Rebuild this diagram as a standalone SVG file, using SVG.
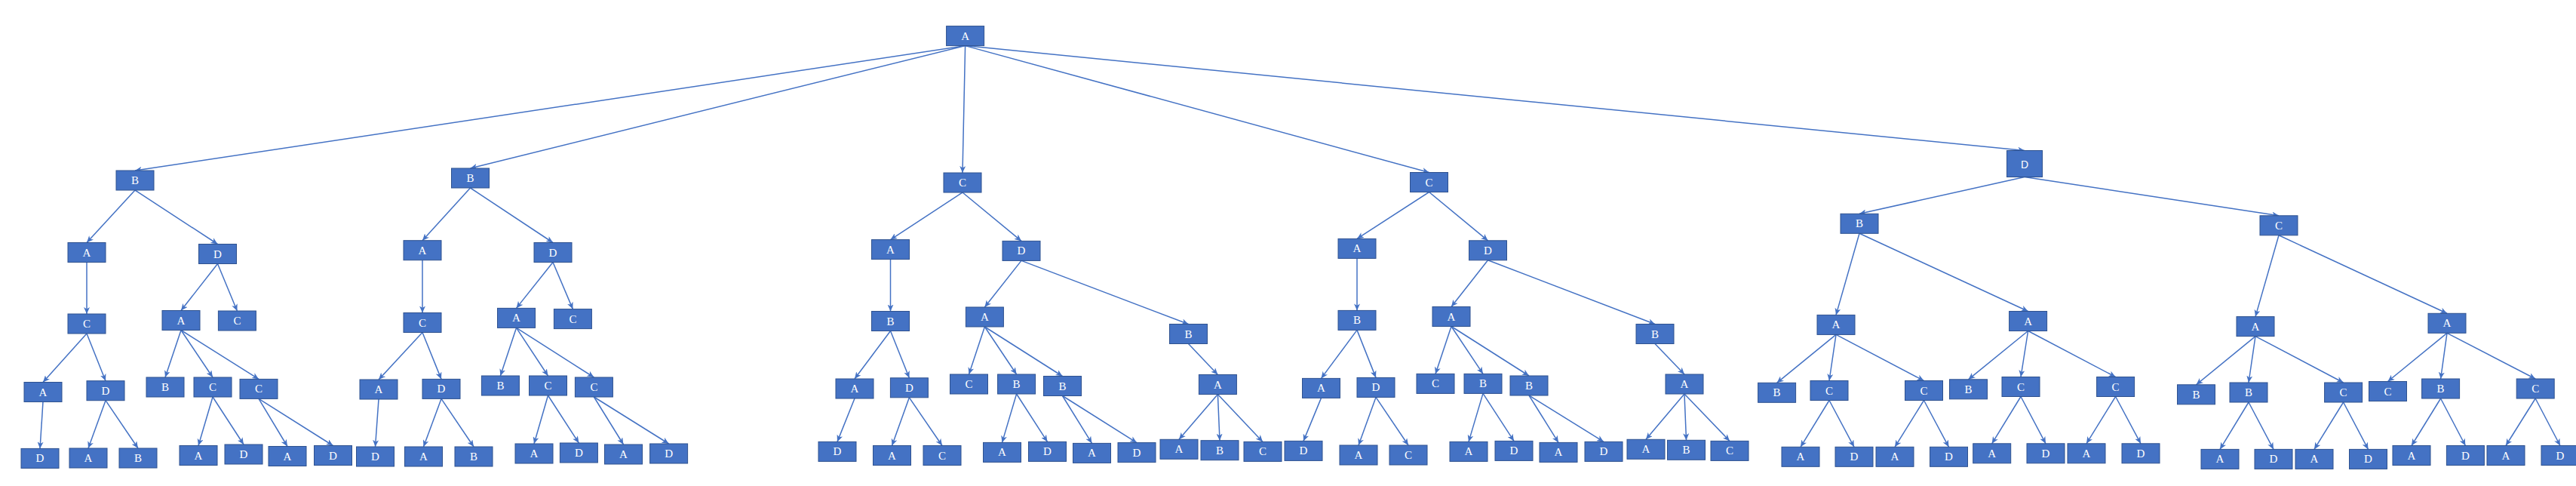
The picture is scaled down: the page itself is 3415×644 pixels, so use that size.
<svg xmlns="http://www.w3.org/2000/svg" width="3415" height="644" viewBox="0 0 3415 644">
<style>
.e line{stroke:#4472C4;stroke-width:1.5;marker-end:url(#ah)}
rect.b{fill:#4472C4;stroke:#2F528F;stroke-width:1}
text{font-family:"Liberation Serif","Times New Roman",serif;font-size:15px;fill:#FFFFFF;text-anchor:middle}
</style>
<defs>
<marker id="ah" markerUnits="userSpaceOnUse" markerWidth="9" markerHeight="8" refX="9" refY="4" orient="auto">
<path d="M0,0 L9,4 L0,8 L2.5,4 z" fill="#4472C4"/>
</marker>
</defs>
<rect width="3415" height="644" fill="#FFFFFF"/>
<g class="e" id="connectors">
<line x1="1279.6" y1="60.6" x2="179" y2="226"/>
<line x1="1279.6" y1="60.6" x2="623.5" y2="223"/>
<line x1="1279.6" y1="60.6" x2="1276" y2="229"/>
<line x1="1279.6" y1="60.6" x2="1894.5" y2="228.5"/>
<line x1="1279.6" y1="60.6" x2="2684" y2="199.5"/>
<line x1="179" y1="252" x2="115" y2="321.5"/>
<line x1="179" y1="252" x2="288.5" y2="323.5"/>
<line x1="115" y1="347.5" x2="115" y2="416"/>
<line x1="115" y1="442" x2="57" y2="506.5"/>
<line x1="115" y1="442" x2="140" y2="504.7"/>
<line x1="57" y1="532.5" x2="53" y2="594.4"/>
<line x1="140" y1="530.7" x2="117" y2="594"/>
<line x1="140" y1="530.7" x2="183" y2="594"/>
<line x1="288.5" y1="349.5" x2="240" y2="411.5"/>
<line x1="288.5" y1="349.5" x2="314.4" y2="412"/>
<line x1="240" y1="437.5" x2="219" y2="500"/>
<line x1="240" y1="437.5" x2="282" y2="500"/>
<line x1="240" y1="437.5" x2="343" y2="502.4"/>
<line x1="282" y1="526" x2="263" y2="590.5"/>
<line x1="282" y1="526" x2="323" y2="589"/>
<line x1="343" y1="528.4" x2="381" y2="591.5"/>
<line x1="343" y1="528.4" x2="441.5" y2="590.5"/>
<line x1="623.5" y1="249" x2="560" y2="318.7"/>
<line x1="623.5" y1="249" x2="733" y2="321.5"/>
<line x1="560" y1="344.7" x2="560" y2="414.5"/>
<line x1="560" y1="440.5" x2="502" y2="503"/>
<line x1="560" y1="440.5" x2="585" y2="502.4"/>
<line x1="502" y1="529" x2="497.5" y2="592"/>
<line x1="585" y1="528.4" x2="561.5" y2="592"/>
<line x1="585" y1="528.4" x2="628" y2="592"/>
<line x1="733" y1="347.5" x2="684.5" y2="408.4"/>
<line x1="733" y1="347.5" x2="759.4" y2="409.6"/>
<line x1="684.5" y1="434.4" x2="663.4" y2="498"/>
<line x1="684.5" y1="434.4" x2="726.5" y2="498"/>
<line x1="684.5" y1="434.4" x2="787.4" y2="500"/>
<line x1="726.5" y1="524" x2="708" y2="588"/>
<line x1="726.5" y1="524" x2="767.4" y2="587"/>
<line x1="787.4" y1="526" x2="826.5" y2="589"/>
<line x1="787.4" y1="526" x2="886.6" y2="588"/>
<line x1="1276" y1="255" x2="1180.5" y2="317.6"/>
<line x1="1276" y1="255" x2="1354" y2="319.4"/>
<line x1="1180.5" y1="343.6" x2="1180.5" y2="412.5"/>
<line x1="1180.5" y1="438.5" x2="1133" y2="502"/>
<line x1="1180.5" y1="438.5" x2="1205.4" y2="500.8"/>
<line x1="1133" y1="528" x2="1110" y2="585.4"/>
<line x1="1205.4" y1="526.8" x2="1182.5" y2="590.5"/>
<line x1="1205.4" y1="526.8" x2="1249" y2="590.5"/>
<line x1="1354" y1="345.4" x2="1305.4" y2="407"/>
<line x1="1354" y1="345.4" x2="1575.5" y2="429.5"/>
<line x1="1305.4" y1="433" x2="1284.5" y2="496"/>
<line x1="1305.4" y1="433" x2="1347.6" y2="496"/>
<line x1="1305.4" y1="433" x2="1408.5" y2="498.5"/>
<line x1="1347.6" y1="522" x2="1328.5" y2="586.4"/>
<line x1="1347.6" y1="522" x2="1388.5" y2="585.4"/>
<line x1="1408.5" y1="524.5" x2="1447.5" y2="587.4"/>
<line x1="1408.5" y1="524.5" x2="1507" y2="586.6"/>
<line x1="1575.5" y1="455.5" x2="1614.4" y2="496.5"/>
<line x1="1614.4" y1="522.5" x2="1563" y2="582.3"/>
<line x1="1614.4" y1="522.5" x2="1617" y2="583.7"/>
<line x1="1614.4" y1="522.5" x2="1674" y2="585.4"/>
<line x1="1894.5" y1="254.5" x2="1799" y2="316.4"/>
<line x1="1894.5" y1="254.5" x2="1972.5" y2="318.8"/>
<line x1="1799" y1="342.4" x2="1799" y2="411.4"/>
<line x1="1799" y1="437.4" x2="1751.5" y2="501.4"/>
<line x1="1799" y1="437.4" x2="1824" y2="500.4"/>
<line x1="1751.5" y1="527.4" x2="1728" y2="584.4"/>
<line x1="1824" y1="526.4" x2="1801" y2="590"/>
<line x1="1824" y1="526.4" x2="1867" y2="590"/>
<line x1="1972.5" y1="344.8" x2="1924" y2="406.5"/>
<line x1="1972.5" y1="344.8" x2="2194" y2="429.5"/>
<line x1="1924" y1="432.5" x2="1903" y2="495.4"/>
<line x1="1924" y1="432.5" x2="1966" y2="495.4"/>
<line x1="1924" y1="432.5" x2="2027" y2="498"/>
<line x1="1966" y1="521.4" x2="1947" y2="585.4"/>
<line x1="1966" y1="521.4" x2="2007" y2="584.4"/>
<line x1="2027" y1="524" x2="2066" y2="586.4"/>
<line x1="2027" y1="524" x2="2126" y2="585.4"/>
<line x1="2194" y1="455.5" x2="2233" y2="496"/>
<line x1="2233" y1="522" x2="2182" y2="582.3"/>
<line x1="2233" y1="522" x2="2235.5" y2="583.3"/>
<line x1="2233" y1="522" x2="2293" y2="584.4"/>
<line x1="2684" y1="234.5" x2="2465" y2="283.3"/>
<line x1="2684" y1="234.5" x2="3021" y2="285.8"/>
<line x1="2465" y1="309.3" x2="2434" y2="417.4"/>
<line x1="2465" y1="309.3" x2="2688.6" y2="412.5"/>
<line x1="2434" y1="443.4" x2="2355.6" y2="507.3"/>
<line x1="2434" y1="443.4" x2="2425" y2="504.5"/>
<line x1="2434" y1="443.4" x2="2550.5" y2="504.5"/>
<line x1="2425" y1="530.5" x2="2387" y2="592.3"/>
<line x1="2425" y1="530.5" x2="2458" y2="592.3"/>
<line x1="2550.5" y1="530.5" x2="2512" y2="592.3"/>
<line x1="2550.5" y1="530.5" x2="2583.5" y2="592.3"/>
<line x1="2688.6" y1="438.5" x2="2609.5" y2="502.8"/>
<line x1="2688.6" y1="438.5" x2="2679" y2="499.5"/>
<line x1="2688.6" y1="438.5" x2="2804.6" y2="499.5"/>
<line x1="2679" y1="525.5" x2="2640.7" y2="587.8"/>
<line x1="2679" y1="525.5" x2="2712" y2="587.8"/>
<line x1="2804.6" y1="525.5" x2="2766" y2="587.8"/>
<line x1="2804.6" y1="525.5" x2="2838" y2="587.8"/>
<line x1="3021" y1="311.8" x2="2990" y2="419.6"/>
<line x1="3021" y1="311.8" x2="3244" y2="415.3"/>
<line x1="2990" y1="445.6" x2="2911.5" y2="509.8"/>
<line x1="2990" y1="445.6" x2="2981" y2="507"/>
<line x1="2990" y1="445.6" x2="3106.6" y2="507"/>
<line x1="2981" y1="533" x2="2943" y2="595.4"/>
<line x1="2981" y1="533" x2="3014" y2="595.4"/>
<line x1="3106.6" y1="533" x2="3068" y2="595.4"/>
<line x1="3106.6" y1="533" x2="3139.5" y2="595.4"/>
<line x1="3244" y1="441.3" x2="3165.5" y2="505.5"/>
<line x1="3244" y1="441.3" x2="3235.6" y2="502"/>
<line x1="3244" y1="441.3" x2="3361.2" y2="502"/>
<line x1="3235.6" y1="528" x2="3197" y2="590.5"/>
<line x1="3235.6" y1="528" x2="3268.4" y2="590.5"/>
<line x1="3361.2" y1="528" x2="3322" y2="590.5"/>
<line x1="3361.2" y1="528" x2="3394" y2="590.5"/>
</g>
<g id="n0" transform="translate(1254.6,34.6)"><rect class="b" width="50" height="26"/><text x="25" y="18">A</text></g>
<g id="n1" transform="translate(154,226)"><rect class="b" width="50" height="26"/><text x="25" y="18">B</text></g>
<g id="n2" transform="translate(598.5,223)"><rect class="b" width="50" height="26"/><text x="25" y="18">B</text></g>
<g id="n3" transform="translate(1251,229)"><rect class="b" width="50" height="26"/><text x="25" y="18">C</text></g>
<g id="n4" transform="translate(1869.5,228.5)"><rect class="b" width="50" height="26"/><text x="25" y="18">C</text></g>
<g id="n5" transform="translate(2660.5,199.5)"><rect class="b" width="47" height="35"/><text x="23.5" y="23" style="font-family:'Liberation Sans',Arial,sans-serif;font-size:14px">D</text></g>
<g id="n1a" transform="translate(90,321.5)"><rect class="b" width="50" height="26"/><text x="25" y="18">A</text></g>
<g id="n1b" transform="translate(263.5,323.5)"><rect class="b" width="50" height="26"/><text x="25" y="18">D</text></g>
<g id="n1a1" transform="translate(90,416)"><rect class="b" width="50" height="26"/><text x="25" y="18">C</text></g>
<g id="n1a1a" transform="translate(32,506.5)"><rect class="b" width="50" height="26"/><text x="25" y="18">A</text></g>
<g id="n1a1b" transform="translate(115,504.7)"><rect class="b" width="50" height="26"/><text x="25" y="18">D</text></g>
<g id="n1a1a1" transform="translate(28,594.4)"><rect class="b" width="50" height="26"/><text x="25" y="18">D</text></g>
<g id="n1a1b1" transform="translate(92,594)"><rect class="b" width="50" height="26"/><text x="25" y="18">A</text></g>
<g id="n1a1b2" transform="translate(158,594)"><rect class="b" width="50" height="26"/><text x="25" y="18">B</text></g>
<g id="n1b1" transform="translate(215,411.5)"><rect class="b" width="50" height="26"/><text x="25" y="18">A</text></g>
<g id="n1b2" transform="translate(289.4,412)"><rect class="b" width="50" height="26"/><text x="25" y="18">C</text></g>
<g id="n1b1a" transform="translate(194,500)"><rect class="b" width="50" height="26"/><text x="25" y="18">B</text></g>
<g id="n1b1b" transform="translate(257,500)"><rect class="b" width="50" height="26"/><text x="25" y="18">C</text></g>
<g id="n1b1c" transform="translate(318,502.4)"><rect class="b" width="50" height="26"/><text x="25" y="18">C</text></g>
<g id="n1b1b1" transform="translate(238,590.5)"><rect class="b" width="50" height="26"/><text x="25" y="18">A</text></g>
<g id="n1b1b2" transform="translate(298,589)"><rect class="b" width="50" height="26"/><text x="25" y="18">D</text></g>
<g id="n1b1c1" transform="translate(356,591.5)"><rect class="b" width="50" height="26"/><text x="25" y="18">A</text></g>
<g id="n1b1c2" transform="translate(416.5,590.5)"><rect class="b" width="50" height="26"/><text x="25" y="18">D</text></g>
<g id="n2a" transform="translate(535,318.7)"><rect class="b" width="50" height="26"/><text x="25" y="18">A</text></g>
<g id="n2b" transform="translate(708,321.5)"><rect class="b" width="50" height="26"/><text x="25" y="18">D</text></g>
<g id="n2a1" transform="translate(535,414.5)"><rect class="b" width="50" height="26"/><text x="25" y="18">C</text></g>
<g id="n2a1a" transform="translate(477,503)"><rect class="b" width="50" height="26"/><text x="25" y="18">A</text></g>
<g id="n2a1b" transform="translate(560,502.4)"><rect class="b" width="50" height="26"/><text x="25" y="18">D</text></g>
<g id="n2a1a1" transform="translate(472.5,592)"><rect class="b" width="50" height="26"/><text x="25" y="18">D</text></g>
<g id="n2a1b1" transform="translate(536.5,592)"><rect class="b" width="50" height="26"/><text x="25" y="18">A</text></g>
<g id="n2a1b2" transform="translate(603,592)"><rect class="b" width="50" height="26"/><text x="25" y="18">B</text></g>
<g id="n2b1" transform="translate(659.5,408.4)"><rect class="b" width="50" height="26"/><text x="25" y="18">A</text></g>
<g id="n2b2" transform="translate(734.4,409.6)"><rect class="b" width="50" height="26"/><text x="25" y="18">C</text></g>
<g id="n2b1a" transform="translate(638.4,498)"><rect class="b" width="50" height="26"/><text x="25" y="18">B</text></g>
<g id="n2b1b" transform="translate(701.5,498)"><rect class="b" width="50" height="26"/><text x="25" y="18">C</text></g>
<g id="n2b1c" transform="translate(762.4,500)"><rect class="b" width="50" height="26"/><text x="25" y="18">C</text></g>
<g id="n2b1b1" transform="translate(683,588)"><rect class="b" width="50" height="26"/><text x="25" y="18">A</text></g>
<g id="n2b1b2" transform="translate(742.4,587)"><rect class="b" width="50" height="26"/><text x="25" y="18">D</text></g>
<g id="n2b1c1" transform="translate(801.5,589)"><rect class="b" width="50" height="26"/><text x="25" y="18">A</text></g>
<g id="n2b1c2" transform="translate(861.6,588)"><rect class="b" width="50" height="26"/><text x="25" y="18">D</text></g>
<g id="n3a" transform="translate(1155.5,317.6)"><rect class="b" width="50" height="26"/><text x="25" y="18">A</text></g>
<g id="n3b" transform="translate(1329,319.4)"><rect class="b" width="50" height="26"/><text x="25" y="18">D</text></g>
<g id="n3a1" transform="translate(1155.5,412.5)"><rect class="b" width="50" height="26"/><text x="25" y="18">B</text></g>
<g id="n3a1a" transform="translate(1108,502)"><rect class="b" width="50" height="26"/><text x="25" y="18">A</text></g>
<g id="n3a1b" transform="translate(1180.4,500.8)"><rect class="b" width="50" height="26"/><text x="25" y="18">D</text></g>
<g id="n3a1a1" transform="translate(1085,585.4)"><rect class="b" width="50" height="26"/><text x="25" y="18">D</text></g>
<g id="n3a1b1" transform="translate(1157.5,590.5)"><rect class="b" width="50" height="26"/><text x="25" y="18">A</text></g>
<g id="n3a1b2" transform="translate(1224,590.5)"><rect class="b" width="50" height="26"/><text x="25" y="18">C</text></g>
<g id="n3b1" transform="translate(1280.4,407)"><rect class="b" width="50" height="26"/><text x="25" y="18">A</text></g>
<g id="n3b2" transform="translate(1550.5,429.5)"><rect class="b" width="50" height="26"/><text x="25" y="18">B</text></g>
<g id="n3b1a" transform="translate(1259.5,496)"><rect class="b" width="50" height="26"/><text x="25" y="18">C</text></g>
<g id="n3b1b" transform="translate(1322.6,496)"><rect class="b" width="50" height="26"/><text x="25" y="18">B</text></g>
<g id="n3b1c" transform="translate(1383.5,498.5)"><rect class="b" width="50" height="26"/><text x="25" y="18">B</text></g>
<g id="n3b1b1" transform="translate(1303.5,586.4)"><rect class="b" width="50" height="26"/><text x="25" y="18">A</text></g>
<g id="n3b1b2" transform="translate(1363.5,585.4)"><rect class="b" width="50" height="26"/><text x="25" y="18">D</text></g>
<g id="n3b1c1" transform="translate(1422.5,587.4)"><rect class="b" width="50" height="26"/><text x="25" y="18">A</text></g>
<g id="n3b1c2" transform="translate(1482,586.6)"><rect class="b" width="50" height="26"/><text x="25" y="18">D</text></g>
<g id="n3b2a" transform="translate(1589.4,496.5)"><rect class="b" width="50" height="26"/><text x="25" y="18">A</text></g>
<g id="n3b2a1" transform="translate(1538,582.3)"><rect class="b" width="50" height="26"/><text x="25" y="18">A</text></g>
<g id="n3b2a2" transform="translate(1592,583.7)"><rect class="b" width="50" height="26"/><text x="25" y="18">B</text></g>
<g id="n3b2a3" transform="translate(1649,585.4)"><rect class="b" width="50" height="26"/><text x="25" y="18">C</text></g>
<g id="n4a" transform="translate(1774,316.4)"><rect class="b" width="50" height="26"/><text x="25" y="18">A</text></g>
<g id="n4b" transform="translate(1947.5,318.8)"><rect class="b" width="50" height="26"/><text x="25" y="18">D</text></g>
<g id="n4a1" transform="translate(1774,411.4)"><rect class="b" width="50" height="26"/><text x="25" y="18">B</text></g>
<g id="n4a1a" transform="translate(1726.5,501.4)"><rect class="b" width="50" height="26"/><text x="25" y="18">A</text></g>
<g id="n4a1b" transform="translate(1799,500.4)"><rect class="b" width="50" height="26"/><text x="25" y="18">D</text></g>
<g id="n4a1a1" transform="translate(1703,584.4)"><rect class="b" width="50" height="26"/><text x="25" y="18">D</text></g>
<g id="n4a1b1" transform="translate(1776,590)"><rect class="b" width="50" height="26"/><text x="25" y="18">A</text></g>
<g id="n4a1b2" transform="translate(1842,590)"><rect class="b" width="50" height="26"/><text x="25" y="18">C</text></g>
<g id="n4b1" transform="translate(1899,406.5)"><rect class="b" width="50" height="26"/><text x="25" y="18">A</text></g>
<g id="n4b2" transform="translate(2169,429.5)"><rect class="b" width="50" height="26"/><text x="25" y="18">B</text></g>
<g id="n4b1a" transform="translate(1878,495.4)"><rect class="b" width="50" height="26"/><text x="25" y="18">C</text></g>
<g id="n4b1b" transform="translate(1941,495.4)"><rect class="b" width="50" height="26"/><text x="25" y="18">B</text></g>
<g id="n4b1c" transform="translate(2002,498)"><rect class="b" width="50" height="26"/><text x="25" y="18">B</text></g>
<g id="n4b1b1" transform="translate(1922,585.4)"><rect class="b" width="50" height="26"/><text x="25" y="18">A</text></g>
<g id="n4b1b2" transform="translate(1982,584.4)"><rect class="b" width="50" height="26"/><text x="25" y="18">D</text></g>
<g id="n4b1c1" transform="translate(2041,586.4)"><rect class="b" width="50" height="26"/><text x="25" y="18">A</text></g>
<g id="n4b1c2" transform="translate(2101,585.4)"><rect class="b" width="50" height="26"/><text x="25" y="18">D</text></g>
<g id="n4b2a" transform="translate(2208,496)"><rect class="b" width="50" height="26"/><text x="25" y="18">A</text></g>
<g id="n4b2a1" transform="translate(2157,582.3)"><rect class="b" width="50" height="26"/><text x="25" y="18">A</text></g>
<g id="n4b2a2" transform="translate(2210.5,583.3)"><rect class="b" width="50" height="26"/><text x="25" y="18">B</text></g>
<g id="n4b2a3" transform="translate(2268,584.4)"><rect class="b" width="50" height="26"/><text x="25" y="18">C</text></g>
<g id="n5a" transform="translate(2440,283.3)"><rect class="b" width="50" height="26"/><text x="25" y="18">B</text></g>
<g id="n5b" transform="translate(2996,285.8)"><rect class="b" width="50" height="26"/><text x="25" y="18">C</text></g>
<g id="n5a1" transform="translate(2409,417.4)"><rect class="b" width="50" height="26"/><text x="25" y="18">A</text></g>
<g id="n5a2" transform="translate(2663.6,412.5)"><rect class="b" width="50" height="26"/><text x="25" y="18">A</text></g>
<g id="n5a1a" transform="translate(2330.6,507.3)"><rect class="b" width="50" height="26"/><text x="25" y="18">B</text></g>
<g id="n5a1b" transform="translate(2400,504.5)"><rect class="b" width="50" height="26"/><text x="25" y="18">C</text></g>
<g id="n5a1c" transform="translate(2525.5,504.5)"><rect class="b" width="50" height="26"/><text x="25" y="18">C</text></g>
<g id="n5a1b1" transform="translate(2362,592.3)"><rect class="b" width="50" height="26"/><text x="25" y="18">A</text></g>
<g id="n5a1b2" transform="translate(2433,592.3)"><rect class="b" width="50" height="26"/><text x="25" y="18">D</text></g>
<g id="n5a1c1" transform="translate(2487,592.3)"><rect class="b" width="50" height="26"/><text x="25" y="18">A</text></g>
<g id="n5a1c2" transform="translate(2558.5,592.3)"><rect class="b" width="50" height="26"/><text x="25" y="18">D</text></g>
<g id="n5a2a" transform="translate(2584.5,502.8)"><rect class="b" width="50" height="26"/><text x="25" y="18">B</text></g>
<g id="n5a2b" transform="translate(2654,499.5)"><rect class="b" width="50" height="26"/><text x="25" y="18">C</text></g>
<g id="n5a2c" transform="translate(2779.6,499.5)"><rect class="b" width="50" height="26"/><text x="25" y="18">C</text></g>
<g id="n5a2b1" transform="translate(2615.7,587.8)"><rect class="b" width="50" height="26"/><text x="25" y="18">A</text></g>
<g id="n5a2b2" transform="translate(2687,587.8)"><rect class="b" width="50" height="26"/><text x="25" y="18">D</text></g>
<g id="n5a2c1" transform="translate(2741,587.8)"><rect class="b" width="50" height="26"/><text x="25" y="18">A</text></g>
<g id="n5a2c2" transform="translate(2813,587.8)"><rect class="b" width="50" height="26"/><text x="25" y="18">D</text></g>
<g id="n5b1" transform="translate(2965,419.6)"><rect class="b" width="50" height="26"/><text x="25" y="18">A</text></g>
<g id="n5b2" transform="translate(3219,415.3)"><rect class="b" width="50" height="26"/><text x="25" y="18">A</text></g>
<g id="n5b1a" transform="translate(2886.5,509.8)"><rect class="b" width="50" height="26"/><text x="25" y="18">B</text></g>
<g id="n5b1b" transform="translate(2956,507)"><rect class="b" width="50" height="26"/><text x="25" y="18">B</text></g>
<g id="n5b1c" transform="translate(3081.6,507)"><rect class="b" width="50" height="26"/><text x="25" y="18">C</text></g>
<g id="n5b1b1" transform="translate(2918,595.4)"><rect class="b" width="50" height="26"/><text x="25" y="18">A</text></g>
<g id="n5b1b2" transform="translate(2989,595.4)"><rect class="b" width="50" height="26"/><text x="25" y="18">D</text></g>
<g id="n5b1c1" transform="translate(3043,595.4)"><rect class="b" width="50" height="26"/><text x="25" y="18">A</text></g>
<g id="n5b1c2" transform="translate(3114.5,595.4)"><rect class="b" width="50" height="26"/><text x="25" y="18">D</text></g>
<g id="n5b2a" transform="translate(3140.5,505.5)"><rect class="b" width="50" height="26"/><text x="25" y="18">C</text></g>
<g id="n5b2b" transform="translate(3210.6,502)"><rect class="b" width="50" height="26"/><text x="25" y="18">B</text></g>
<g id="n5b2c" transform="translate(3336.2,502)"><rect class="b" width="50" height="26"/><text x="25" y="18">C</text></g>
<g id="n5b2b1" transform="translate(3172,590.5)"><rect class="b" width="50" height="26"/><text x="25" y="18">A</text></g>
<g id="n5b2b2" transform="translate(3243.4,590.5)"><rect class="b" width="50" height="26"/><text x="25" y="18">D</text></g>
<g id="n5b2c1" transform="translate(3297,590.5)"><rect class="b" width="50" height="26"/><text x="25" y="18">A</text></g>
<g id="n5b2c2" transform="translate(3369,590.5)"><rect class="b" width="50" height="26"/><text x="25" y="18">D</text></g>
</svg>
